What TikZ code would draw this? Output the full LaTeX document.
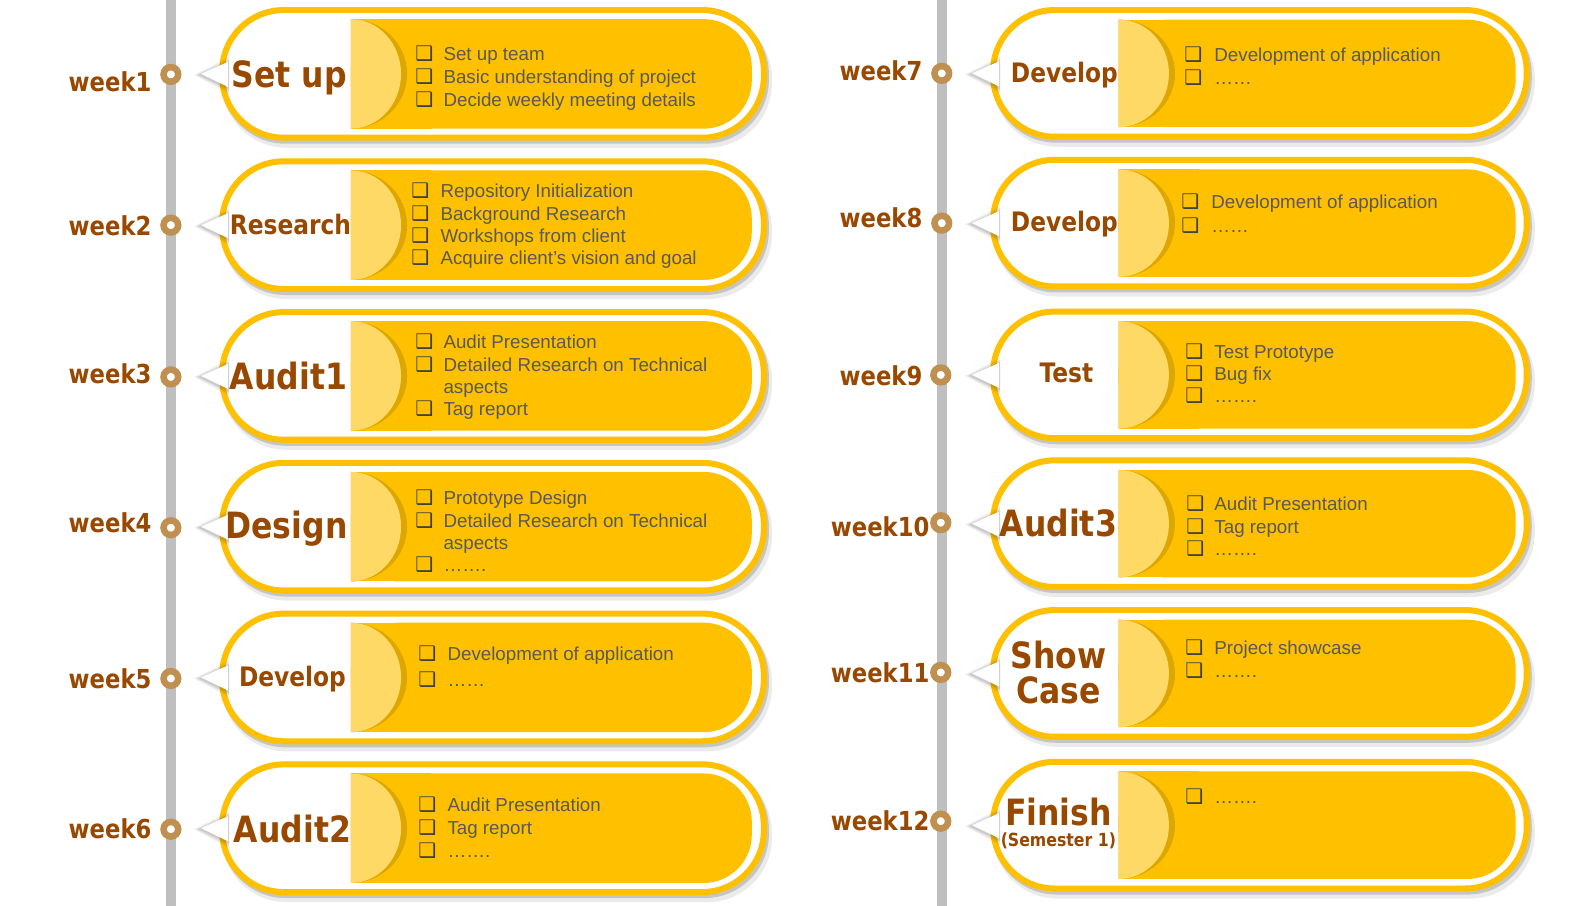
\documentclass[tikz,border=0pt]{standalone}
\usepackage{fontspec}
\setmainfont{Liberation Sans}
\newfontfamily\tfont{DejaVu Sans}[FakeStretch=0.87]
\newfontfamily\sfnt{DejaVu Sans}
\usetikzlibrary{calc}
\definecolor{yel}{RGB}{255,192,0}
\definecolor{lyel}{RGB}{255,217,102}
\definecolor{dyel}{RGB}{222,166,0}
\definecolor{brn}{RGB}{153,72,0}
\definecolor{circtan}{RGB}{192,144,80}
\definecolor{txtg}{RGB}{89,89,89}
\definecolor{bulg}{RGB}{64,64,64}
\definecolor{lineg}{RGB}{191,191,191}
\tikzset{
  bul/.style={font=\sfnt\fontsize{15}{15}\selectfont, text=bulg, anchor=base west, inner sep=0pt, yshift=-4.9pt},
  btxt/.style={font=\fontsize{14}{16}\selectfont, text=txtg, anchor=base west, inner sep=0pt, yshift=-4.9pt},
  bigt/.style={font=\tfont\bfseries\fontsize{27}{30}\selectfont, text=brn, anchor=base, inner sep=0pt, yshift=-9.75pt},
  smt/.style={font=\tfont\bfseries\fontsize{20}{22}\selectfont, text=brn, anchor=base, inner sep=0pt, yshift=-7.4pt},
  semt/.style={font=\tfont\bfseries\fontsize{13.5}{15}\selectfont, text=brn, anchor=base, inner sep=0pt, yshift=-4.9pt},
  wk/.style={font=\tfont\bfseries\fontsize{19.5}{21}\selectfont, text=brn, anchor=base east, inner sep=0pt, yshift=-7.4pt},
  dot/.style={circle, draw=circtan, fill=white, line width=4.9pt, minimum size=10.9pt, inner sep=0pt},
  tline/.style={draw=lineg, line width=7.5pt}
}
% #1 outer left, #2 outer right, #3 inner left, #4 inner right, #5 cy, #6 outer half h, #7 inner half h
\newcommand\card[7]{%
  \fill[black,opacity=.08,rounded corners=48pt] (#1+3,#5-#6+7) rectangle (#2+5,#5+#6+7);
  \fill[black,opacity=.16,rounded corners=48pt] (#1+2,#5-#6+3) rectangle (#2+2,#5+#6+3);
  \draw[yel,fill=white,line width=4.5pt,rounded corners=46pt] (#1+3,#5-#6+3) rectangle (#2-3,#5+#6-3);
  \fill[yel,rounded corners=36pt] (#3,#5-#7) rectangle (#4,#5+#7);
  \fill[yel] (#3,#5-#7) rectangle (#3+80,#5+#7);
  \begin{scope}
    \clip (#3,#5-#7) rectangle (#3+70,#5+#7);
    \fill[dyel] (#3,#5) ellipse[x radius=56,y radius=#7];
    \fill[lyel] (#3,#5) ellipse[x radius=50,y radius=#7];
  \end{scope}
  \fill[black,opacity=.05] (#1-25,#5+1) -- (#1+10,#5-17) -- (#1+10,#5+20) -- cycle;
  \fill[black,opacity=.07] (#1-23,#5+1) -- (#1+10,#5-15) -- (#1+10,#5+18) -- cycle;
  \fill[black,opacity=.09] (#1-21,#5+1) -- (#1+10,#5-13) -- (#1+10,#5+16) -- cycle;
  \fill[white] (#1-18,#5) -- (#1+9,#5-12) -- (#1+9,#5+13) -- cycle;
}
\newcommand\bl[5]{\node[bul] (#1b) at (#2,#4) {❑}; \node[btxt] (#1t) at (#3,#4) {#5};}
\begin{document}
\begin{tikzpicture}[x=0.75pt,y=-0.75pt]
\useasboundingbox (0,0) rectangle (1568,901);
\fill[white] (0,0) rectangle (1568,901);
% timelines
\coordinate (lt) at (170,0); \coordinate (lb) at (170,901);
\coordinate (rt) at (937,0); \coordinate (rb) at (937,901);
\draw[tline] (lt) -- (lb);
\draw[tline] (rt) -- (rb);
% left cards
\card{218}{763}{349}{748}{73.5}{66.5}{54.5}
\card{218}{763}{349}{748}{224}{66.5}{54.5}
\card{218}{763}{349}{748}{374}{66.5}{54.5}
\card{218}{763}{349}{748}{524}{66.5}{54.5}
\card{218}{763}{349}{748}{674}{66.5}{54.5}
\card{218}{763}{349}{748}{824}{66.5}{54.5}
% right cards
\card{985}{1522}{1113}{1508}{73}{66}{53.5}
\card{985}{1522}{1113}{1508}{222}{66}{53.5}
\card{985}{1522}{1113}{1508}{373}{66}{53.5}
\card{985}{1522}{1113}{1508}{521}{66}{53.5}
\card{985}{1522}{1113}{1508}{670}{66}{53.5}
\card{985}{1522}{1113}{1508}{821}{66}{53.5}
% dots
\node[dot] (d1) at (170,74) {};
\node[dot] (d2) at (170,224) {};
\node[dot] (d3) at (170,375) {};
\node[dot] (d4) at (170,525) {};
\node[dot] (d5) at (170,675) {};
\node[dot] (d6) at (170,825) {};
\node[dot] (d7) at (937,73) {};
\node[dot] (d8) at (937,222) {};
\node[dot] (d9) at (936,373) {};
\node[dot] (d10) at (936,520) {};
\node[dot] (d11) at (936,669) {};
\node[dot] (d12) at (936,817) {};
% week labels
\node[wk] (w1) at (151,81) {week1};
\node[wk] (w2) at (151,224) {week2};
\node[wk] (w3) at (151,372) {week3};
\node[wk] (w4) at (151,520) {week4};
\node[wk] (w5) at (151,675) {week5};
\node[wk] (w6) at (151,824) {week6};
\node[wk] (w7) at (918,70) {week7};
\node[wk] (w8) at (918,216) {week8};
\node[wk] (w9) at (918,374) {week9};
\node[wk] (w10) at (925,524) {week10};
\node[wk] (w11) at (925,669) {week11};
\node[wk] (w12) at (925,816) {week12};
% titles
\node[bigt] (t1) at (288,74) {Set up};
\node[smt] (t2) at (289,223) {Research};
\node[bigt] (t3) at (287,375) {Audit1};
\node[bigt] (t4) at (285,523) {Design};
\node[smt] (t5) at (291,673) {Develop};
\node[bigt] (t6) at (291,825) {Audit2};
\node[smt] (t7) at (1059,72) {Develop};
\node[smt] (t8) at (1059,220) {Develop};
\node[smt] (t9) at (1061,371) {Test};
\node[bigt] (t10) at (1053,521) {Audit3};
\node[bigt] (t11a) at (1053,652) {Show};
\node[bigt] (t11b) at (1053,687) {Case};
\node[bigt] (t12a) at (1053,808) {Finish};
\node[semt] (t12b) at (1053,836) {(Semester 1)};
% bullets left
\bl{a1}{413}{441}{54}{Set up team}
\bl{a2}{413}{441}{77}{Basic understanding of project}
\bl{a3}{413}{441}{99}{Decide weekly meeting details}
\bl{b1}{409}{438}{190}{Repository Initialization}
\bl{b2}{409}{438}{213}{Background Research}
\bl{b3}{409}{438}{235}{Workshops from client}
\bl{b4}{409}{438}{257}{Acquire client’s vision and goal}
\bl{c1}{413}{441}{340}{Audit Presentation}
\bl{c2}{413}{441}{363}{Detailed Research on Technical}
\node[btxt] (c2x) at (441,385) {aspects};
\bl{c3}{413}{441}{407}{Tag report}
\bl{e1}{413}{441}{495}{Prototype Design}
\bl{e2}{413}{441}{518}{Detailed Research on Technical}
\node[btxt] (e2x) at (441,540) {aspects};
\bl{e3}{413}{441}{562}{…….}
\bl{f1}{416}{445}{651}{Development of application}
\bl{f2}{416}{445}{676}{……}
\bl{g1}{416}{445}{801}{Audit Presentation}
\bl{g2}{416}{445}{824}{Tag report}
\bl{g3}{416}{445}{847}{…….}
% bullets right
\bl{h1}{1178}{1208}{55}{Development of application}
\bl{h2}{1178}{1208}{78}{……}
\bl{i1}{1175}{1205}{201}{Development of application}
\bl{i2}{1175}{1205}{225}{……}
\bl{j1}{1179}{1208}{350}{Test Prototype}
\bl{j2}{1179}{1208}{372}{Bug fix}
\bl{j3}{1179}{1208}{394}{…….}
\bl{k1}{1180}{1208}{501}{Audit Presentation}
\bl{k2}{1180}{1208}{524}{Tag report}
\bl{k3}{1180}{1208}{546}{…….}
\bl{m1}{1179}{1208}{645}{Project showcase}
\bl{m2}{1179}{1208}{668}{…….}
\bl{n1}{1179}{1208}{793}{…….}
\end{tikzpicture}
\end{document}
